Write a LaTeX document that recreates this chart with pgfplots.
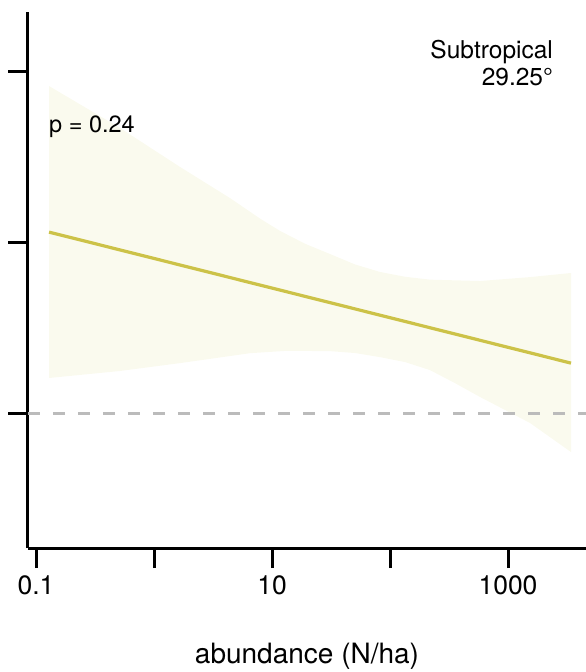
\documentclass[border=0pt]{standalone}
\usepackage{pgfplots}
\pgfplotsset{compat=1.18}
\usepackage{fontspec}
\setmainfont{TeX Gyre Heros}
\definecolor{linecol}{RGB}{204,194,72}
\definecolor{bandcol}{RGB}{250,250,238}
\definecolor{dashcol}{RGB}{187,187,187}
\begin{document}
\begin{tikzpicture}
\useasboundingbox (-28pt,-124pt) rectangle (558pt,548pt);
\begin{axis}[
  scale only axis, width=558pt, height=536pt,
  xmode=log, xmin=0.0855, xmax=4581, ymin=-0.789, ymax=2.345,
  axis x line*=bottom, axis y line*=left,
  x axis line style={line width=3pt},
  y axis line style={line width=3pt},
  major tick style={line width=3pt, black},
  xminorticks=false, yminorticks=false,
  tick align=outside, major tick length=20pt,
  xtick={0.1,1,10,100,1000}, xticklabels={0.1,,10,,1000},
  ytick={0,1,2}, yticklabels={,,},
  /pgf/number format/assume math mode=true,
  xticklabel style={font=\fontsize{26.5}{30}\selectfont, anchor=base, yshift=-26pt},
  xlabel={abundance (N/ha)},
  xlabel style={at={(axis description cs:0.5,0)}, anchor=base, yshift=-115pt, font=\fontsize{28}{32}\selectfont},
]
\addplot[fill=bandcol, draw=none] coordinates {
(0.1289,1.912) (0.5150,1.667) (1.661,1.439) (4.406,1.257) (8.0,1.135) (11.69,1.065) (19.04,0.990) (31.00,0.930) (50.51,0.869) (82.29,0.825) (134.0,0.797) (218.3,0.780) (579.0,0.772) (1536,0.795) (3420,0.819)
(3420,-0.228) (1536,-0.058) (943.2,0.018) (579.0,0.094) (355.5,0.175) (218.3,0.251) (134.0,0.298) (82.29,0.327) (50.51,0.351) (31.00,0.362) (13.40,0.364) (6.510,0.350) (1.661,0.292) (0.5150,0.246) (0.1289,0.205)
(0.1289,1.912)};
\addplot[dashcol, line width=3pt, dash pattern=on 12pt off 13pt] coordinates {(0.0855,0) (4581,0)};
\addplot[linecol, line width=3.2pt] coordinates {(0.1289,1.058) (3420,0.292)};
\node[anchor=base east, inner sep=0pt, font=\fontsize{24.5}{28}\selectfont] at (axis description cs:0.941,0.914) {Subtropical};
\node[anchor=base east, inner sep=0pt, font=\fontsize{24.5}{28}\selectfont] at (axis description cs:0.941,0.862) {29.25°};
\node[anchor=base west, font=\fontsize{23.5}{26}\selectfont, inner sep=0pt] at (axis description cs:0.0376,0.776) {p = 0.24};
\end{axis}
\end{tikzpicture}
\end{document}
